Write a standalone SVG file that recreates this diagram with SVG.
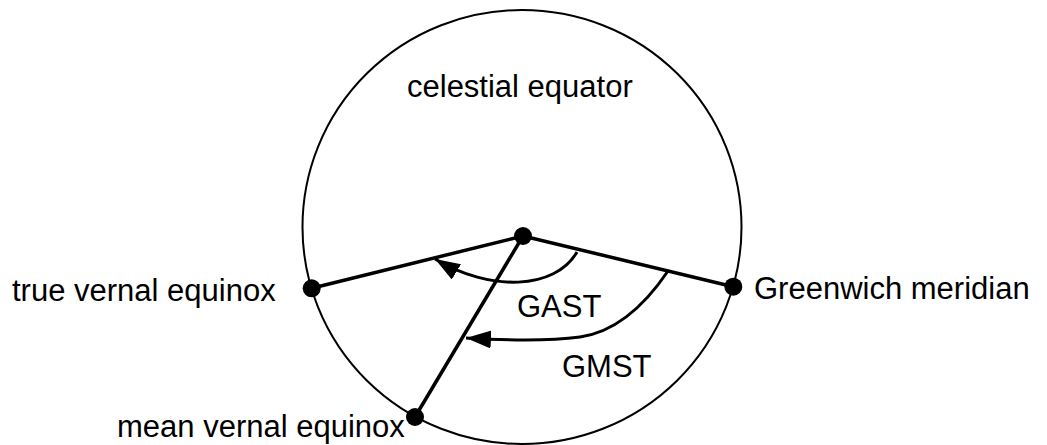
<svg xmlns="http://www.w3.org/2000/svg" width="1047" height="445" viewBox="0 0 1047 445">
<style>
.lbl{font-family:"Liberation Sans",Arial,sans-serif;font-size:31px;fill:#000}
.ln{stroke:#000;stroke-width:3.5;fill:none}
.arc{stroke:#000;stroke-width:3;fill:none;marker-end:url(#ah)}
.dot{fill:#000}
</style>
<defs>
<marker id="ah" markerUnits="userSpaceOnUse" markerWidth="30" markerHeight="24" refX="25" refY="9" orient="auto">
<path d="M0,0 L25,9 L0,18 Z" fill="#000"/>
</marker>
</defs>
<rect width="1047" height="445" fill="#fff"/>
<g id="equator">
<ellipse cx="522" cy="227" rx="219.5" ry="217" fill="none" stroke="#000" stroke-width="2"/>
<text class="lbl" x="407" y="97">celestial equator</text>
</g>
<g id="connectors">
<line class="ln" x1="523" y1="236" x2="311.7" y2="288.3"/>
<line class="ln" x1="523" y1="236" x2="733.3" y2="286.7"/>
<line class="ln" x1="523" y1="236" x2="415" y2="417"/>
<path id="gast-arc" class="arc" d="M577,252 C555,290 490,292 435,259"/>
<path id="gmst-arc" class="arc" d="M668,271 C645,305 615,332 580,337 C550,341 500,340 466,338"/>
</g>
<g id="center"><circle class="dot" cx="523" cy="236" r="9"/></g>
<g id="true-vernal-equinox">
<circle class="dot" cx="311.7" cy="288.3" r="9"/>
<text class="lbl" x="12" y="301">true vernal equinox</text>
</g>
<g id="greenwich-meridian">
<circle class="dot" cx="733.3" cy="286.7" r="9"/>
<text class="lbl" x="754" y="299">Greenwich meridian</text>
</g>
<g id="mean-vernal-equinox">
<circle class="dot" cx="415" cy="417" r="9"/>
<text class="lbl" x="117" y="437">mean vernal equinox</text>
</g>
<g id="gast"><text class="lbl" x="517" y="317">GAST</text></g>
<g id="gmst"><text class="lbl" x="562" y="377">GMST</text></g>
</svg>
